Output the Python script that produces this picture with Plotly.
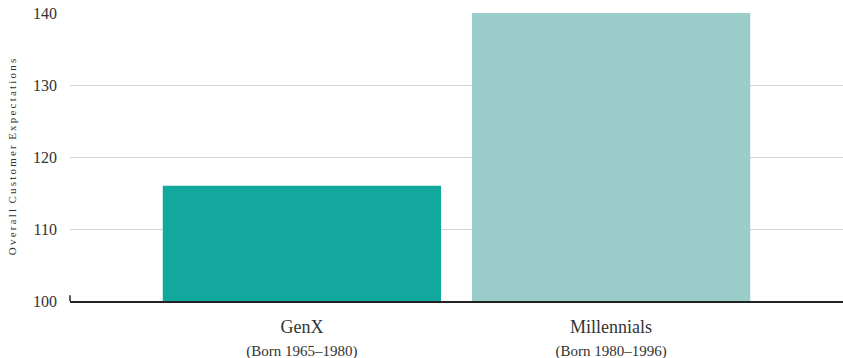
import plotly.graph_objects as go

# Generation groups and their expectation scores
generations = ["GenX", "Millennials"]
birth_years = ["(Born 1965–1980)", "(Born 1980–1996)"]
expectations = [116, 140]
bar_colors = ["#12a89d", "#9acdc9"]

y_ticks = [100, 110, 120, 130, 140]
y_title = "Overall Customer Expectations"

font_family = "Liberation Serif"

tick_text = [
    f"<span style=\"font-family:'{font_family}';font-size:18px\">{g}</span><br>"
    f"<span style=\"font-family:'{font_family}';font-size:15px\">{b}</span>"
    for g, b in zip(generations, birth_years)
]


def spaced(text):
    # widen the letter spacing of an axis title
    return "\u2002".join("\u2009".join(word) for word in text.split(" "))


fig = go.Figure(
    go.Bar(
        x=[0, 1],
        y=[v - 100 for v in expectations],
        base=100,
        marker=dict(color=bar_colors, line=dict(width=0)),
        width=0.9,
        hoverinfo="skip",
    )
)

fig.update_layout(
    width=843,
    height=358,
    margin=dict(l=70, r=0, t=13, b=57),
    plot_bgcolor="white",
    paper_bgcolor="white",
    showlegend=False,
    font=dict(family=font_family, color="#333333"),
    bargap=0.1,
)

fig.update_xaxes(
    range=[-0.75, 1.75],
    tickvals=[0, 1],
    ticktext=tick_text,
    tickfont=dict(family=font_family, size=18, color="#333333"),
    showgrid=False,
    showline=True,
    linecolor="#222222",
    linewidth=2,
    ticks="",
    ticklabelstandoff=8,
    automargin=False,
    layer="below traces",
    zeroline=False,
)

fig.update_yaxes(
    range=[100, 140],
    tickvals=y_ticks,
    tickfont=dict(family=font_family, size=16, color="#333333"),
    showgrid=True,
    gridcolor="#d4d4d4",
    gridwidth=1,
    zeroline=False,
    ticks="",
    ticklabelstandoff=12,
    automargin=False,
    title=dict(
        text=spaced(y_title),
        font=dict(family=font_family, size=11, color="#333333"),
        standoff=14,
    ),
    layer="below traces",
)

# short upright mark at the left end of the baseline
fig.add_shape(
    type="line", xref="paper", yref="y",
    x0=0, x1=0, y0=100, y1=100.8,
    line=dict(color="#222222", width=1.5),
)

fig.write_html("out.html")
